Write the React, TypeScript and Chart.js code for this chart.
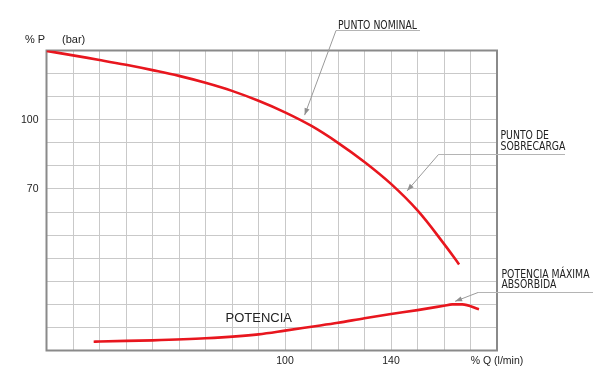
import React, { useEffect, useRef } from "react";
import { Chart, registerables } from "chart.js";

Chart.register(...registerables);

// Pressure curve (% P vs % Q)
const qPressure = [10, 20, 30, 40, 50, 60, 70, 80, 90, 100, 110, 120, 130, 140, 150, 160, 165.7];
const pPressure = [129.8, 127.9, 125.9, 123.8, 121.5, 119.0, 116.0, 112.5, 108.2, 103.2, 97.3, 90.0, 81.7, 72.2, 60.7, 46.2, 37.3];

// Power curve
const qPower = [27.8, 30, 50, 70, 90, 100, 110, 120, 130, 140, 150, 160, 163.1, 166.9, 173.2];
const pPower = [3.8, 3.9, 4.4, 5.3, 7.0, 8.6, 10.3, 12.0, 14.0, 15.8, 17.5, 19.4, 20.0, 20.0, 17.9];

// Axes
const xMin = 10;
const xMax = 180;
const yMin = 0;
const yMax = 130;
const xTickValues = [100, 140, 180];
const xTickLabels = ["100", "140", "% Q (l/min)"];
const yTickValues = [100, 70];
const yTickLabels = ["100", "70"];

// Annotations: arrow tip in data units
const annTexts = [["PUNTO NOMINAL"], ["PUNTO DE", "SOBRECARGA"], ["POTENCIA MÁXIMA", "ABSORBIDA"]];
const annTipQ = [107.4, 146.1, 164.2];
const annTipP = [102.0, 69.2, 21.3];

const RED = "rgb(232,22,30)";

export default function App() {
  const ref = useRef<HTMLCanvasElement | null>(null);

  useEffect(() => {
    document.body.style.margin = "0";
    const canvas = ref.current;
    if (!canvas) return;

    const annLayout = [
      { lx: 336, ly: 30.5, ux2: 420, tx: 338, ty: [28.5] },
      { lx: 438.5, ly: 154.5, ux2: 565, tx: 500.5, ty: [139, 150] },
      { lx: 478, ly: 292.5, ux2: 593, tx: 501.5, ty: [277.7, 288.4] },
    ];

    const decor = {
      id: "decor",
      beforeDatasetsDraw(chart: any) {
        const { ctx, chartArea: a } = chart;
        ctx.save();
        ctx.strokeStyle = "#8a8a8a";
        ctx.lineWidth = 2;
        ctx.strokeRect(a.left, a.top, a.right - a.left, a.bottom - a.top);
        ctx.restore();
      },
      afterDatasetsDraw(chart: any) {
        const { ctx } = chart;
        const xs = chart.scales.x;
        const ys = chart.scales.y;
        ctx.save();
        // axis titles
        ctx.fillStyle = "#222";
        ctx.font = '11px "Liberation Sans", Arial, sans-serif';
        ctx.textBaseline = "alphabetic";
        ctx.textAlign = "left";
        ctx.fillText("% P", 25, 43);
        ctx.fillText("(bar)", 62, 43);
        ctx.font = '13px "Liberation Sans", Arial, sans-serif';
        ctx.fillText("POTENCIA", 225.5, 321.5);

        // annotation font, condensed to match the original width
        ctx.font = '11.5px "Liberation Sans Narrow", "DejaVu Sans Condensed", Arial, sans-serif';
        const sx = 79 / ctx.measureText("PUNTO NOMINAL").width;

        annTexts.forEach((lines, i) => {
          const L = annLayout[i];
          const tipX = xs.getPixelForValue(annTipQ[i]);
          const tipY = ys.getPixelForValue(annTipP[i]);
          ctx.strokeStyle = "#b4b4b4";
          ctx.lineWidth = 1;
          ctx.beginPath();
          ctx.moveTo(L.ux2, L.ly);
          ctx.lineTo(L.lx, L.ly);
          ctx.stroke();
          ctx.strokeStyle = "#9a9a9a";
          ctx.beginPath();
          ctx.moveTo(L.lx, L.ly);
          ctx.lineTo(tipX, tipY);
          ctx.stroke();
          // arrow head
          const dx = tipX - L.lx;
          const dy = tipY - L.ly;
          const len = Math.hypot(dx, dy);
          const ux = dx / len;
          const uy = dy / len;
          const hl = 7;
          const hw = 2.6;
          const bx = tipX - ux * hl;
          const by = tipY - uy * hl;
          ctx.fillStyle = "#8f8f8f";
          ctx.beginPath();
          ctx.moveTo(tipX, tipY);
          ctx.lineTo(bx - uy * hw, by + ux * hw);
          ctx.lineTo(bx + uy * hw, by - ux * hw);
          ctx.closePath();
          ctx.fill();
          // text
          ctx.fillStyle = "#222";
          lines.forEach((t, j) => {
            ctx.save();
            ctx.translate(L.tx, L.ty[j]);
            ctx.scale(sx, 1);
            ctx.fillText(t, 0, 0);
            ctx.restore();
          });
        });
        ctx.restore();
      },
    };

    const chart = new Chart(canvas, {
      type: "line",
      data: {
        datasets: [
          {
            label: "Presión",
            data: qPressure.map((q, i) => ({ x: q, y: pPressure[i] })),
            borderColor: RED,
            borderWidth: 2.6,
            pointRadius: 0,
            tension: 0.4,
            fill: false,
          },
          {
            label: "Potencia",
            data: qPower.map((q, i) => ({ x: q, y: pPower[i] })),
            borderColor: RED,
            borderWidth: 2.6,
            pointRadius: 0,
            cubicInterpolationMode: "monotone",
            fill: false,
          },
        ],
      },
      options: {
        animation: false,
        responsive: true,
        maintainAspectRatio: false,
        layout: { padding: { top: 50.5, right: 103, left: 0, bottom: 0 } },
        plugins: { legend: { display: false }, tooltip: { enabled: false } },
        scales: {
          x: {
            type: "linear",
            min: xMin,
            max: xMax,
            afterFit: (s: any) => {
              s.height = 26.5;
            },
            border: { display: false },
            grid: { color: "#c9c9c9", lineWidth: 1, drawTicks: false },
            ticks: {
              stepSize: 10,
              autoSkip: false,
              maxRotation: 0,
              padding: 4,
              color: "#222",
              font: { family: '"Liberation Sans", Arial, sans-serif', size: 10.5 },
              callback: (v: any) => {
                const k = xTickValues.indexOf(Number(v));
                return k >= 0 ? xTickLabels[k] : "";
              },
            },
          },
          y: {
            type: "linear",
            min: yMin,
            max: yMax,
            afterFit: (s: any) => {
              s.width = 46.5;
            },
            border: { display: false },
            grid: { color: "#c9c9c9", lineWidth: 1, drawTicks: false },
            ticks: {
              stepSize: 10,
              autoSkip: false,
              padding: 8,
              color: "#222",
              font: { family: '"Liberation Sans", Arial, sans-serif', size: 10.5 },
              callback: (v: any) => {
                const k = yTickValues.indexOf(Number(v));
                return k >= 0 ? yTickLabels[k] : "";
              },
            },
          },
        },
      },
      plugins: [decor],
    } as any);

    return () => chart.destroy();
  }, []);

  return (
    <div style={{ position: "fixed", left: 0, top: 0, width: 600, height: 377, background: "#fff" }}>
      <canvas ref={ref} />
    </div>
  );
}
